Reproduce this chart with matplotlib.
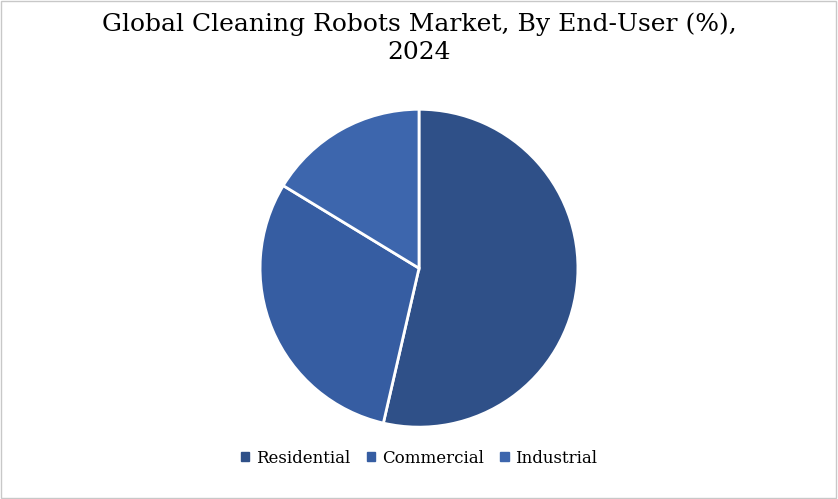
import matplotlib

matplotlib.use("Agg")
import matplotlib.pyplot as plt
from matplotlib.patches import Rectangle

labels = ["Residential", "Commercial", "Industrial"]
shares = [53.6, 30.1, 16.3]
colors = ["#2F5088", "#365DA2", "#3D66AD"]

plt.rcParams["font.family"] = ["DejaVu Serif"]

fig = plt.figure(figsize=(8.38, 4.99), dpi=100)
ax = fig.add_axes([0.0, 0.144, 1.0, 0.637])
ax.pie(shares, colors=colors, startangle=90, counterclock=False, radius=1.0,
       wedgeprops=dict(edgecolor="white", linewidth=2))
ax.set_aspect("equal", adjustable="datalim")
ax.set_ylim(-1.0, 1.0)

fig.suptitle("Global Cleaning Robots Market, By End-User (%),\n2024",
             y=0.975, fontsize=18, linespacing=1.3)

handles = [Rectangle((0, 0), 1, 1, color=c) for c in colors]
fig.legend(handles, labels, loc="lower center", ncol=3, frameon=False,
           bbox_to_anchor=(0.5, 0.035), fontsize=12, handlelength=0.5,
           handleheight=0.5, handletextpad=0.4, columnspacing=1.0)

fig.patches.append(Rectangle((0.001, 0.002), 0.997, 0.996, transform=fig.transFigure,
                             fill=False, edgecolor="#C8C8C8", linewidth=1))
fig.savefig("out.png", dpi=100)
plt.close(fig)
